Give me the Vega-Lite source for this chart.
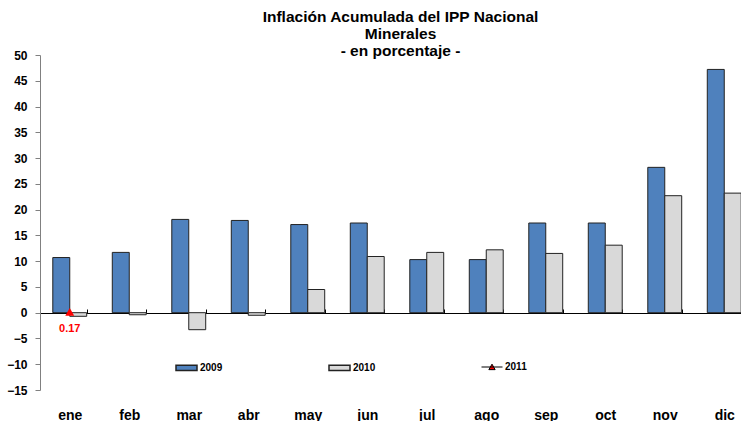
{
  "$schema": "https://vega.github.io/schema/vega-lite/v6.json",
  "width": 701,
  "height": 335,
  "autosize": {"type": "none"},
  "padding": {"left": 40, "top": 55, "right": 0, "bottom": 31},
  "background": "white",
  "config": {"view": {"stroke": null}, "font": "Liberation Sans"},
  "title": {
    "text": ["Inflación Acumulada del IPP Nacional", "Minerales", "- en porcentaje -"],
    "fontSize": 15.5,
    "fontWeight": "bold",
    "lineHeight": 17,
    "anchor": "middle",
    "dx": 10,
    "offset": -10,
    "color": "black"
  },
  "datasets": {
    "bars": [
      {"month": "ene", "year": "2009", "value": 10.7},
      {"month": "feb", "year": "2009", "value": 11.7},
      {"month": "mar", "year": "2009", "value": 18.1},
      {"month": "abr", "year": "2009", "value": 17.9},
      {"month": "may", "year": "2009", "value": 17.1},
      {"month": "jun", "year": "2009", "value": 17.4},
      {"month": "jul", "year": "2009", "value": 10.3},
      {"month": "ago", "year": "2009", "value": 10.3},
      {"month": "sep", "year": "2009", "value": 17.4},
      {"month": "oct", "year": "2009", "value": 17.4},
      {"month": "nov", "year": "2009", "value": 28.2},
      {"month": "dic", "year": "2009", "value": 47.2},
      {"month": "ene", "year": "2010", "value": -0.7},
      {"month": "feb", "year": "2010", "value": -0.4},
      {"month": "mar", "year": "2010", "value": -3.3},
      {"month": "abr", "year": "2010", "value": -0.5},
      {"month": "may", "year": "2010", "value": 4.5},
      {"month": "jun", "year": "2010", "value": 10.9},
      {"month": "jul", "year": "2010", "value": 11.7},
      {"month": "ago", "year": "2010", "value": 12.2},
      {"month": "sep", "year": "2010", "value": 11.5},
      {"month": "oct", "year": "2010", "value": 13.1},
      {"month": "nov", "year": "2010", "value": 22.7},
      {"month": "dic", "year": "2010", "value": 23.2}
    ],
    "pt": [
      {"month": "ene", "year": "2011", "value": 0.17}
    ]
  },
  "encoding": {
    "x": {
      "field": "month", "type": "nominal",
      "sort": ["ene","feb","mar","abr","may","jun","jul","ago","sep","oct","nov","dic"],
      "scale": {"range": [0, 714], "paddingInner": 0.43, "paddingOuter": 0.215},
      "axis": {
        "title": null, "labelAngle": 0, "domainColor": "black", "tickColor": "black",
        "tickBand": "extent", "tickSize": -4, "labelFontSize": 14, "labelFontWeight": "bold",
        "labelColor": "black", "labelBaseline": "alphabetic", "labelPadding": 110, "offset": -77
      }
    },
    "y": {
      "field": "value", "type": "quantitative",
      "scale": {"domain": [-15, 50], "nice": false},
      "axis": {
        "title": null, "grid": false, "values": [-15,-10,-5,0,5,10,15,20,25,30,35,40,45,50],
        "labelOverlap": false, "labelFlush": false, "tickCount": 14,
        "labelFontSize": 12, "labelFontWeight": "bold", "labelColor": "black",
        "domainColor": "#808080", "tickColor": "#808080", "tickSize": 5, "labelPadding": 8
      }
    }
  },
  "layer": [
    {
      "data": {"name": "bars"},
      "mark": {"type": "bar", "stroke": "#222222", "strokeWidth": 1},
      "encoding": {
        "xOffset": {"field": "year", "type": "nominal", "scale": {"paddingInner": 0}},
        "color": {
          "field": "year", "type": "nominal",
          "scale": {"domain": ["2009", "2010"], "range": ["#4f81bd", "#d9d9d9"]},
          "legend": {
            "title": null, "orient": "none", "direction": "horizontal",
            "legendX": 135, "legendY": 301, "padding": 0,
            "symbolType": "M-1,-0.25H1V0.25H-1Z", "symbolSize": 441,
            "labelFontSize": 10, "labelFontWeight": "bold", "labelColor": "black",
            "labelOffset": 2, "columnPadding": 103,
            "encode": {"symbols": {"update": {"stroke": {"value": "#333333"}, "strokeWidth": {"value": 1}}}}
          }
        }
      }
    },
    {
      "data": {"name": "pt"},
      "mark": {"type": "point", "shape": "triangle-up", "filled": true, "size": 80, "opacity": 1},
      "encoding": {
        "color": {
          "field": "year", "type": "nominal",
          "scale": {"domain": ["2011"], "range": ["#ff0000"]},
          "legend": {
            "title": null, "orient": "none", "direction": "horizontal",
            "legendX": 441, "legendY": 301, "padding": 0,
            "symbolType": "M-1,0H1M-0.3,0.25L0,-0.27L0.3,0.25Z", "symbolSize": 441,
            "symbolStrokeColor": "black", "symbolStrokeWidth": 1,
            "labelFontSize": 10, "labelFontWeight": "bold", "labelColor": "black",
            "labelOffset": 2,
            "encode": {"symbols": {"update": {
              "stroke": {"value": "black"}, "strokeWidth": {"value": 1},
              "opacity": {"value": 1}, "size": {"value": 441},
              "shape": {"value": "M-1,0H1M-0.3,0.25L0,-0.27L0.3,0.25Z"}
            }}}
          }
        }
      }
    },
    {
      "data": {"name": "pt"},
      "mark": {"type": "text", "color": "#ff0000", "fontWeight": "bold", "fontSize": 11, "dy": 20, "baseline": "alphabetic"},
      "encoding": {
        "text": {"field": "value", "type": "quantitative", "format": ".2f"}
      }
    }
  ],
  "resolve": {"scale": {"color": "independent"}}
}
